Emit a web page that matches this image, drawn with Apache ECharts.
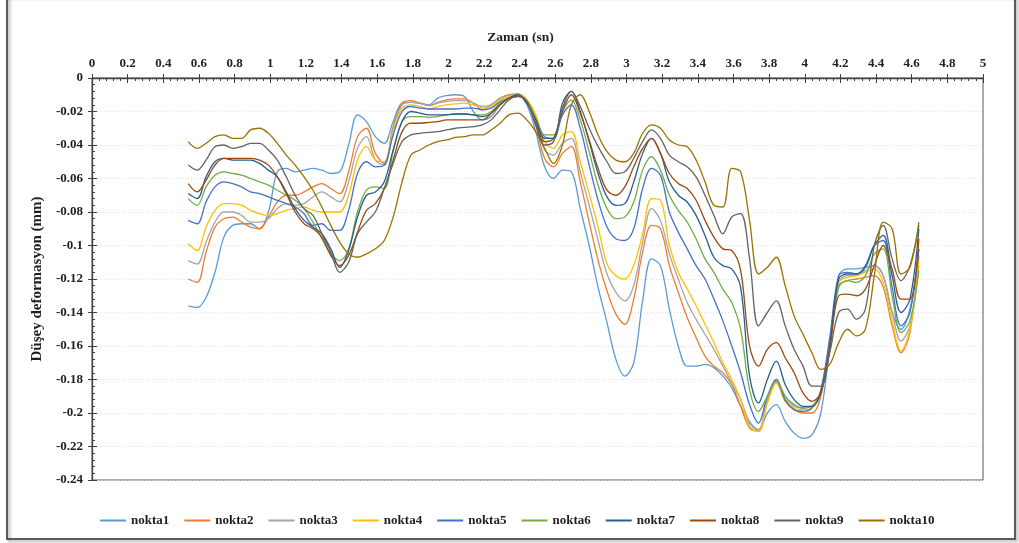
<!DOCTYPE html>
<html>
<head>
<meta charset="utf-8">
<style>
  html, body { margin: 0; padding: 0; background: #ffffff; }
  #chart { width: 1019px; height: 543px; }
</style>
<script src="https://cdn.jsdelivr.net/npm/echarts@6/dist/echarts.min.js"></script>
</head>
<body>
<div id="chart"></div>
<script>
// Sampling times (s)
const times = [
  0.54, 0.59, 0.64, 0.69, 0.74, 0.79, 0.84, 0.89, 0.94, 0.99,
  1.04, 1.09, 1.14, 1.19, 1.24, 1.29, 1.34, 1.39, 1.44, 1.49,
  1.54, 1.59, 1.64, 1.69, 1.74, 1.79, 1.84, 1.89, 1.94, 1.99,
  2.04, 2.09, 2.14, 2.19, 2.24, 2.29, 2.34, 2.39, 2.44, 2.49,
  2.54, 2.59, 2.64, 2.69, 2.74, 2.79, 2.84, 2.89, 2.94, 2.99,
  3.04, 3.09, 3.14, 3.19, 3.24, 3.29, 3.34, 3.39, 3.44, 3.49,
  3.54, 3.59, 3.64, 3.69, 3.74, 3.79, 3.84, 3.89, 3.94, 3.99,
  4.04, 4.09, 4.14, 4.19, 4.24, 4.29, 4.34, 4.39, 4.44, 4.49,
  4.54, 4.59, 4.64
];

// Vertical deformation (mm) for each measuring point
const nokta1 = [
  -0.136, -0.137, -0.131, -0.116, -0.095, -0.088, -0.087, -0.087, -0.090, -0.080,
  -0.056, -0.054, -0.056, -0.055, -0.054, -0.055, -0.057, -0.056, -0.040, -0.022,
  -0.026, -0.035, -0.039, -0.026, -0.015, -0.0145, -0.015, -0.016, -0.012, -0.0105,
  -0.010, -0.011, -0.020, -0.025, -0.023, -0.016, -0.012, -0.010, -0.016, -0.032,
  -0.053, -0.060, -0.055, -0.056, -0.078, -0.100, -0.125, -0.146, -0.168, -0.178,
  -0.170, -0.133, -0.108, -0.112, -0.138, -0.160, -0.172, -0.172, -0.171, -0.173,
  -0.178, -0.185, -0.196, -0.206, -0.210, -0.200, -0.195, -0.205, -0.212, -0.215,
  -0.213, -0.200, -0.160, -0.118, -0.114, -0.114, -0.113, -0.112, -0.118, -0.140,
  -0.150, -0.138, -0.102
];
const nokta2 = [
  -0.120, -0.122, -0.104, -0.089, -0.084, -0.083, -0.086, -0.089, -0.090, -0.083,
  -0.074, -0.070, -0.070, -0.068, -0.065, -0.063, -0.066, -0.069, -0.056, -0.035,
  -0.030, -0.045, -0.051, -0.029, -0.015, -0.0135, -0.015, -0.0165, -0.0145, -0.013,
  -0.0125, -0.0125, -0.015, -0.019, -0.016, -0.012, -0.010, -0.0095, -0.014, -0.028,
  -0.048, -0.053, -0.045, -0.041, -0.062, -0.086, -0.109, -0.127, -0.141, -0.147,
  -0.132, -0.104, -0.088, -0.090, -0.112, -0.128, -0.143, -0.155, -0.166, -0.172,
  -0.176, -0.183, -0.196, -0.209, -0.211, -0.193, -0.182, -0.193, -0.198, -0.200,
  -0.200, -0.190, -0.158, -0.124, -0.121, -0.120, -0.119, -0.118, -0.125, -0.148,
  -0.164, -0.152, -0.106
];
const nokta3 = [
  -0.109, -0.111, -0.098, -0.086, -0.080, -0.080, -0.082, -0.086, -0.086, -0.084,
  -0.078, -0.075, -0.076, -0.075, -0.071, -0.068, -0.071, -0.074, -0.062, -0.042,
  -0.035, -0.049, -0.052, -0.030, -0.016, -0.0145, -0.015, -0.0165, -0.015, -0.014,
  -0.0135, -0.0135, -0.015, -0.017, -0.016, -0.012, -0.0105, -0.0095, -0.013, -0.024,
  -0.043, -0.046, -0.039, -0.036, -0.056, -0.076, -0.097, -0.117, -0.128, -0.133,
  -0.124, -0.098, -0.078, -0.085, -0.105, -0.120, -0.134, -0.144, -0.153, -0.162,
  -0.172, -0.182, -0.192, -0.205, -0.210, -0.192, -0.180, -0.190, -0.196, -0.197,
  -0.196, -0.187, -0.156, -0.122, -0.118, -0.118, -0.115, -0.112, -0.118, -0.140,
  -0.157, -0.148, -0.112
];
const nokta4 = [
  -0.099, -0.103, -0.089, -0.079, -0.075, -0.075, -0.076, -0.079, -0.081, -0.082,
  -0.081, -0.079, -0.078, -0.077, -0.079, -0.080, -0.080, -0.080, -0.070, -0.049,
  -0.041, -0.049, -0.050, -0.032, -0.018, -0.016, -0.017, -0.0185, -0.017, -0.016,
  -0.0155, -0.015, -0.016, -0.018, -0.017, -0.013, -0.011, -0.010, -0.013, -0.022,
  -0.038, -0.042, -0.034, -0.032, -0.050, -0.069, -0.089, -0.111, -0.118, -0.120,
  -0.112, -0.093, -0.072, -0.073, -0.100, -0.116, -0.126, -0.136, -0.147, -0.158,
  -0.170, -0.180, -0.192, -0.208, -0.211, -0.194, -0.182, -0.192, -0.197, -0.198,
  -0.197, -0.188, -0.158, -0.122, -0.119, -0.118, -0.116, -0.114, -0.122, -0.145,
  -0.163, -0.150, -0.110
];
const nokta5 = [
  -0.085, -0.087, -0.074, -0.065, -0.062, -0.063, -0.065, -0.068, -0.069, -0.071,
  -0.073, -0.075, -0.077, -0.081, -0.088, -0.087, -0.091, -0.091, -0.079, -0.057,
  -0.050, -0.053, -0.052, -0.034, -0.020, -0.017, -0.018, -0.0185, -0.0185, -0.0185,
  -0.0185, -0.018, -0.018, -0.019, -0.018, -0.014, -0.012, -0.011, -0.014, -0.024,
  -0.035, -0.036, -0.022, -0.016, -0.030, -0.052, -0.073, -0.089, -0.096, -0.097,
  -0.090, -0.066, -0.054, -0.058, -0.080, -0.092, -0.102, -0.112, -0.120, -0.132,
  -0.145, -0.160, -0.176, -0.195, -0.206, -0.190, -0.180, -0.192, -0.198, -0.199,
  -0.197, -0.186, -0.155, -0.118, -0.116, -0.117, -0.112, -0.100, -0.097, -0.125,
  -0.148, -0.140, -0.102
];
const nokta6 = [
  -0.072, -0.076, -0.065, -0.058, -0.056, -0.057, -0.058, -0.060, -0.062, -0.064,
  -0.067, -0.070, -0.073, -0.078, -0.086, -0.096, -0.105, -0.109, -0.102, -0.080,
  -0.067, -0.065, -0.066, -0.044, -0.026, -0.023, -0.023, -0.0235, -0.023, -0.022,
  -0.0215, -0.0215, -0.022, -0.022, -0.020, -0.015, -0.012, -0.011, -0.014, -0.024,
  -0.034, -0.034, -0.020, -0.013, -0.025, -0.044, -0.064, -0.078, -0.084, -0.083,
  -0.074, -0.055, -0.047, -0.055, -0.070, -0.079, -0.086, -0.096, -0.108, -0.116,
  -0.126, -0.134, -0.150, -0.186, -0.199, -0.190, -0.181, -0.190, -0.195, -0.197,
  -0.196, -0.188, -0.160, -0.125, -0.121, -0.122, -0.118, -0.105, -0.102, -0.130,
  -0.152, -0.145, -0.115
];
const nokta7 = [
  -0.069, -0.072, -0.059, -0.050, -0.048, -0.049, -0.049, -0.049, -0.051, -0.055,
  -0.059, -0.068, -0.078, -0.085, -0.089, -0.093, -0.102, -0.113, -0.103, -0.083,
  -0.070, -0.068, -0.062, -0.043, -0.026, -0.020, -0.021, -0.022, -0.022, -0.022,
  -0.0215, -0.0215, -0.022, -0.023, -0.021, -0.016, -0.012, -0.010, -0.015, -0.025,
  -0.036, -0.036, -0.015, -0.008, -0.020, -0.038, -0.057, -0.071, -0.076, -0.075,
  -0.062, -0.045, -0.036, -0.045, -0.062, -0.070, -0.074, -0.082, -0.094, -0.107,
  -0.112, -0.114, -0.125, -0.178, -0.194, -0.180, -0.169, -0.183, -0.192, -0.196,
  -0.196, -0.188, -0.160, -0.120, -0.117, -0.117, -0.113, -0.100, -0.094, -0.118,
  -0.140, -0.132, -0.090
];
const nokta8 = [
  -0.063, -0.068, -0.061, -0.052, -0.048, -0.048, -0.048, -0.048, -0.049, -0.052,
  -0.059, -0.069, -0.080, -0.087, -0.090, -0.095, -0.106, -0.112, -0.106, -0.092,
  -0.079, -0.075, -0.066, -0.049, -0.032, -0.027, -0.027, -0.0265, -0.026, -0.025,
  -0.025, -0.025, -0.025, -0.025, -0.021, -0.016, -0.012, -0.011, -0.014, -0.027,
  -0.038, -0.036, -0.020, -0.010, -0.021, -0.037, -0.054, -0.067, -0.070, -0.065,
  -0.053, -0.042, -0.036, -0.045, -0.057, -0.063, -0.066, -0.073, -0.085, -0.095,
  -0.102, -0.103, -0.115, -0.160, -0.172, -0.162, -0.158, -0.167, -0.176, -0.188,
  -0.193, -0.188, -0.162, -0.130, -0.129, -0.130, -0.126, -0.112, -0.100, -0.114,
  -0.132, -0.132, -0.096
];
const nokta9 = [
  -0.052, -0.055, -0.049, -0.041, -0.040, -0.042, -0.041, -0.039, -0.039, -0.043,
  -0.049, -0.059, -0.070, -0.078, -0.082, -0.093, -0.104, -0.116, -0.110, -0.093,
  -0.086, -0.080, -0.066, -0.051, -0.038, -0.034, -0.033, -0.0325, -0.032, -0.031,
  -0.030, -0.0295, -0.029, -0.028, -0.025, -0.019, -0.013, -0.011, -0.014, -0.028,
  -0.040, -0.038, -0.018, -0.008, -0.017, -0.030, -0.041, -0.050, -0.057, -0.056,
  -0.048, -0.038, -0.031, -0.036, -0.046, -0.050, -0.053, -0.059, -0.070, -0.082,
  -0.093, -0.083, -0.081, -0.108, -0.148, -0.140, -0.133, -0.148, -0.162, -0.172,
  -0.184, -0.184, -0.164, -0.140, -0.138, -0.144, -0.138, -0.100, -0.088, -0.108,
  -0.121, -0.112, -0.088
];
const nokta10 = [
  -0.038, -0.042, -0.039, -0.035, -0.034, -0.036, -0.036, -0.031, -0.030, -0.033,
  -0.039, -0.046, -0.052, -0.059, -0.067, -0.077, -0.088, -0.098, -0.105, -0.107,
  -0.105, -0.102, -0.097, -0.083, -0.062, -0.046, -0.043, -0.040, -0.038, -0.037,
  -0.0355, -0.035, -0.034, -0.034, -0.031, -0.027, -0.022, -0.021, -0.025, -0.032,
  -0.042, -0.051, -0.040, -0.016, -0.010, -0.020, -0.034, -0.044, -0.049, -0.050,
  -0.045, -0.033, -0.028, -0.030, -0.037, -0.040, -0.041, -0.049, -0.062, -0.076,
  -0.077, -0.054, -0.056, -0.085, -0.117, -0.113, -0.107, -0.124, -0.142, -0.153,
  -0.164, -0.174, -0.171, -0.158, -0.150, -0.154, -0.150, -0.118, -0.086, -0.090,
  -0.117, -0.113, -0.086
];

const seriesNames = ['nokta1', 'nokta2', 'nokta3', 'nokta4', 'nokta5',
                     'nokta6', 'nokta7', 'nokta8', 'nokta9', 'nokta10'];
const seriesValues = [nokta1, nokta2, nokta3, nokta4, nokta5,
                      nokta6, nokta7, nokta8, nokta9, nokta10];
const seriesColors = ['#5B9BD5', '#ED7D31', '#A5A5A5', '#FFC000', '#4472C4',
                      '#70AD47', '#255E91', '#9E480E', '#636363', '#997300'];

// Axis ranges and tick steps
const xMin = 0, xMax = 5, xStep = 0.2;
const yMin = -0.24, yMax = 0, yStep = 0.02;

const FONT = '"Liberation Serif", "Times New Roman", serif';
const AXIS_COLOR = '#404040';
const TEXT_COLOR = '#1f1f1f';

const chart = echarts.init(document.getElementById('chart'), null, { renderer: 'canvas' });

const series = seriesNames.map((name, i) => ({
  name: name,
  type: 'line',
  xAxisIndex: 0,
  yAxisIndex: 0,
  data: times.map((t, k) => [t, seriesValues[i][k]]),
  showSymbol: false,
  smooth: 0.35,
  lineStyle: { width: 1.3, color: seriesColors[i] },
  itemStyle: { color: seriesColors[i] },
  emphasis: { disabled: true },
  z: 2 + i
}));

const option = {
  animation: false,
  backgroundColor: '#ffffff',
  grid: {
    left: 92, right: 36, top: 78, bottom: 63,
    show: true, borderColor: '#595959', borderWidth: 1, backgroundColor: 'transparent'
  },
  graphic: [{
    type: 'rect',
    shape: { x: 7, y: -4, width: 1008, height: 543 },
    style: {
      fill: 'transparent', stroke: '#2b2b2b', lineWidth: 1.5,
      shadowBlur: 3, shadowColor: 'rgba(0,0,0,0.45)', shadowOffsetX: 2, shadowOffsetY: 2
    },
    silent: true, z: 100
  }],
  legend: {
    bottom: 11,
    left: 95,
    itemWidth: 26,
    itemHeight: 2,
    itemGap: 15,
    icon: 'rect',
    data: seriesNames,
    textStyle: { fontFamily: FONT, fontWeight: 'bold', fontSize: 13, color: TEXT_COLOR }
  },
  xAxis: [{
    type: 'value',
    position: 'top',
    min: xMin, max: xMax, interval: xStep,
    name: 'Zaman (sn)',
    nameLocation: 'middle',
    nameGap: 33,
    nameTextStyle: { fontFamily: FONT, fontWeight: 'bold', fontSize: 13.5, color: TEXT_COLOR, padding: [0, 34, 0, 0] },
    axisLine: { show: true, onZero: false, lineStyle: { color: AXIS_COLOR, width: 1.3 } },
    axisTick: { show: true, inside: true, length: 5, lineStyle: { color: AXIS_COLOR, width: 1 } },
    minorTick: { show: true, splitNumber: 5, length: 3, lineStyle: { color: AXIS_COLOR, width: 1 } },
    axisLabel: { margin: 8, fontFamily: FONT, fontWeight: 'bold', fontSize: 13, color: TEXT_COLOR },
    splitLine: { show: false }
  }, {
    type: 'value',
    position: 'top',
    min: xMin, max: xMax, interval: xStep,
    axisLine: { show: false },
    axisTick: { show: true, inside: false, length: 4, lineStyle: { color: AXIS_COLOR, width: 1 } },
    axisLabel: { show: false },
    splitLine: { show: false }
  }],
  yAxis: [{
    type: 'value',
    position: 'left',
    min: yMin, max: yMax, interval: yStep,
    name: 'Düşey deformasyon (mm)',
    nameLocation: 'middle',
    nameGap: 39,
    nameRotate: 90,
    nameTextStyle: { fontFamily: FONT, fontWeight: 'bold', fontSize: 15, color: TEXT_COLOR },
    axisLine: { show: true, onZero: false, lineStyle: { color: AXIS_COLOR, width: 1.3 } },
    axisTick: { show: true, inside: true, length: 5, lineStyle: { color: AXIS_COLOR, width: 1 } },
    minorTick: { show: true, splitNumber: 5, length: 3, lineStyle: { color: AXIS_COLOR, width: 1 } },
    axisLabel: { margin: 9, fontFamily: FONT, fontWeight: 'bold', fontSize: 13, color: TEXT_COLOR },
    splitLine: { show: true, lineStyle: { color: '#dedede', type: [1, 2], width: 1 } }
  }, {
    type: 'value',
    position: 'left',
    min: yMin, max: yMax, interval: yStep,
    axisLine: { show: false },
    axisTick: { show: true, inside: false, length: 4, lineStyle: { color: AXIS_COLOR, width: 1 } },
    axisLabel: { show: false },
    splitLine: { show: false }
  }],
  series: series
};

chart.setOption(option);
</script>
</body>
</html>
